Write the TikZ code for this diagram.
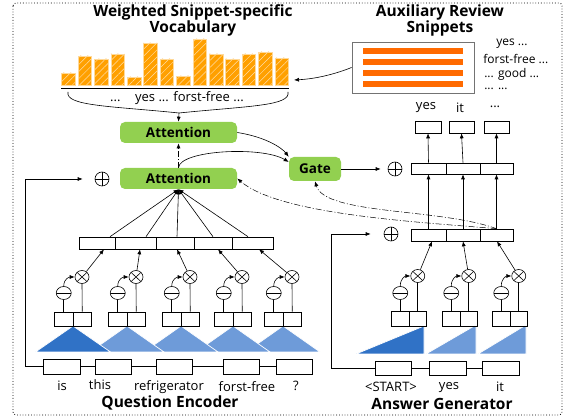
\documentclass[tikz,border=0pt]{standalone}
\usepackage{fontspec}
\setmainfont{Open Sans}
\usetikzlibrary{arrows.meta,patterns.meta,calc,shapes.geometric}
\definecolor{attgreen}{HTML}{92D050}
\definecolor{darkblue}{HTML}{3072C6}
\definecolor{lightblue}{HTML}{6E9BD9}
\definecolor{vocorange}{HTML}{FFA000}
\definecolor{auxorange}{HTML}{FF6A00}
\begin{document}
\begin{tikzpicture}[x=1pt,y=-1pt,
  >={Latex[length=5pt,width=4pt]}, line width=0.6pt,
  cell/.style={draw, inner sep=0pt, minimum height=12pt},
  attbox/.style={fill=attgreen, rounded corners=5pt, minimum width=117pt, minimum height=21pt, font=\bfseries\fontsize{13.5}{15}\selectfont},
  oplusn/.style={circle, draw, minimum size=14pt, inner sep=0pt,
    path picture={\draw (path picture bounding box.north) -- (path picture bounding box.south) (path picture bounding box.west) -- (path picture bounding box.east);}},
  otimesn/.style={ellipse, draw, minimum width=14pt, minimum height=13pt, inner sep=0pt,
    path picture={\draw (path picture bounding box.north west) -- (path picture bounding box.south east) (path picture bounding box.north east) -- (path picture bounding box.south west);}},
  ominusn/.style={ellipse, draw, minimum width=15pt, minimum height=13pt, inner sep=0pt,
    path picture={\draw (path picture bounding box.west) -- (path picture bounding box.east);}},
  titlef/.style={font=\bfseries\fontsize{15.5}{16}\selectfont, align=center, inner sep=0pt},
  lbl/.style={font=\fontsize{13}{14}\selectfont, inner sep=0pt},
  sidelbl/.style={font=\fontsize{12}{13}\selectfont, inner sep=0pt, anchor=west},
  dashdot/.style={dash pattern=on 6pt off 2pt on 1pt off 2pt},
  lighttri/.style={fill=lightblue, draw=white, line width=0.7pt},
  darktri/.style={fill=darkblue, draw=white, line width=0.7pt}
]
\useasboundingbox (0,0) rectangle (571,419);
% outer dotted frame
\draw[dash pattern=on 0.8pt off 2pt, rounded corners=3pt, line width=0.8pt] (13,3) rectangle (562,415);

% titles
\node[titlef] (t1) at (193,20) {Weighted Snippet-specific\\Vocabulary};
\node[titlef] (t2) at (440,20) {Auxiliary Review\\Snippets};

% vocabulary bars
\foreach \h [count=\i from 0] in {73,56,59,54,77,43,59,76,39,54,59,54,52,58} {
  \fill[vocorange] (61.7+16.4*\i,\h) rectangle ++(13.5,85-\h);
  \fill[pattern={Lines[angle=45,distance=5pt,line width=0.5pt]}, pattern color=white!65!vocorange] (61.7+16.4*\i,\h) rectangle ++(13.5,85-\h);
  \draw[white!60!vocorange, line width=0.5pt] (61.7+16.4*\i,\h) rectangle ++(13.5,85-\h);
}
\draw[line width=0.8pt] (61,88) -- (289,88);
\node[lbl] (voctext) at (177,98) {...\hspace{10pt} yes ... forst-free ...};
\coordinate (bracetip) at (179,113);
\draw (68,92) .. controls (65,106) and (110,106) .. (bracetip);
\draw (288,92) .. controls (291,106) and (248,106) .. (bracetip);

% auxiliary snippets
\node[draw=black!55, line width=0.8pt, minimum width=122pt, minimum height=51pt, inner sep=0pt] (aux) at (413,67.5) {};
\foreach \yy in {51,62,73,84} {
  \fill[auxorange] (363,\yy-3.3) rectangle (463,\yy+3.3);
}
\node[sidelbl] (s1) at (496,44) {yes ...};
\node[sidelbl] (s2) at (483,59) {forst-free ...};
\node[sidelbl] (s3) at (484,74) {... good ...};
\node[sidelbl] (s4) at (484,89) {... ...};
\coordinate (vocright) at (294,80);
\draw[->] (aux.west) .. controls (330,76) and (312,79) .. (vocright);

% attention and gate
\node[attbox] (att1) at (178.5,132.5) {Attention};
\node[attbox] (att2) at (178.5,178.5) {Attention};
\node[attbox, minimum width=52pt, minimum height=24pt] (gate) at (315,169) {Gate};
\draw[->] (bracetip) -- (att1.north);
\draw[->, dashdot] (att2.north) -- (att1.south);
\draw[->] (att2.north) .. controls (180,150) and (262,146) .. (gate.165);
\draw[->] (att1.east) .. controls (266,137) and (282,148) .. (gate.155);

\node[oplusn] (opG) at (395,169) {};
\draw[->, shorten >=7pt] (gate.east) -- (opG.west);

% answer side rows
\node[cell, minimum width=35pt, minimum height=11pt] (r1a) at (428.5,168.5) {};
\node[cell, minimum width=34pt, minimum height=11pt] (r1b) at (463,168.5) {};
\node[cell, minimum width=33pt, minimum height=11pt] (r1c) at (496.5,168.5) {};
\node[cell, minimum width=35pt] (r2a) at (428.5,235) {};
\node[cell, minimum width=34pt] (r2b) at (463,235) {};
\node[cell, minimum width=33pt] (r2c) at (496.5,235) {};
\node[cell, minimum width=26pt] (o1) at (428,127) {};
\node[cell, minimum width=25pt] (o2) at (461.5,127) {};
\node[cell, minimum width=25pt] (o3) at (496.5,127) {};
\node[lbl] (ol1) at (426,108) {yes};
\node[lbl] (ol2) at (460,108) {it};
\node[lbl] (ol3) at (495,107) {...};
\draw[->] (r1a.north) -- (o1.south);
\draw[->] (r1b.north) -- (o2.south);
\draw[->] (r1c.north) -- (o3.south);
\draw[->] (r2a.north) -- (r1a.south);
\draw[->] (r2b.north) -- (r1b.south);
\draw[->] (r2c.north) -- (r1c.south);

% dash-dot connectors
\draw[->, dashdot, line width=0.5pt] (r2c.north) .. controls (440,208) and (325,215) .. (gate.south);
\draw[->, dashdot, line width=0.5pt] (r2c.north) .. controls (420,222) and (280,215) .. (att2.east);

% question encoder row
\node[cell, minimum width=36pt] (e1) at (97,243) {};
\node[cell, minimum width=41pt] (e2) at (135.5,243) {};
\node[cell, minimum width=38pt] (e3) at (175,243) {};
\node[cell, minimum width=38pt] (e4) at (213,243) {};
\node[cell, minimum width=41pt] (e5) at (252.5,243) {};
\draw[->] ([xshift=13pt]e1.north) -- (att2.south);
\draw[->] ([xshift=10.5pt]e2.north) -- (att2.south);
\draw[->] ([xshift=2pt]e3.north) -- (att2.south);
\draw[->] (e4.north) -- (att2.south);
\draw[->] ([xshift=-4.5pt]e5.north) -- (att2.south);

% encoder triangles
\foreach \m in {283,233,181,127} {
  \fill[lighttri] (\m,326) -- (\m+37,352) -- (\m-37,352) -- cycle;
}
\fill[darktri] (73,326) -- (110.5,352) -- (35.5,352) -- cycle;

% encoder gated units
\foreach \m [count=\i] in {73,127,181,233,283} {
  \node[cell, minimum width=18.5pt, minimum height=14pt] (qa\i) at (\m-9.25,319) {};
  \node[cell, minimum width=18.5pt, minimum height=14pt] (qb\i) at (\m+9.25,319) {};
  \node[ominusn] (qm\i) at (\m-9.25,293) {};
  \node[otimesn] (qx\i) at (\m+9,277) {};
  \draw (qa\i.north) -- (qm\i.south);
  \draw (qb\i.north) -- (qx\i.south);
  \draw[->] (qm\i.north) .. controls +(0,-8) and +(-5,0) .. (qx\i.west);
}
\draw[->] (qx1) -- ([xshift=7pt]e1.south);
\draw[->] (qx2) -- ([xshift=4.5pt]e2.south);
\draw[->] (qx3) -- ([xshift=2pt]e3.south);
\draw[->] (qx4) -- ([xshift=5pt]e4.south);
\draw[->] (qx5) -- ([xshift=6.5pt]e5.south);

% encoder inputs
\node[cell, minimum width=37pt, minimum height=15pt] (q1) at (61.5,366.5) {};
\node[cell, minimum width=36pt, minimum height=15pt] (q2) at (113,366.5) {};
\node[cell, minimum width=36pt, minimum height=15pt] (q3) at (174,366.5) {};
\node[cell, minimum width=36pt, minimum height=15pt] (q4) at (241,366.5) {};
\node[cell, minimum width=36pt, minimum height=15pt] (q5) at (294,366.5) {};
\draw (q1.east) -- (q2.west) (q2.east) -- (q3.west) (q3.east) -- (q4.west) (q4.east) -- (q5.west);
\node[oplusn] (opL) at (102,179) {};
\draw[->, shorten >=12pt] (q1.west) -- ++(-17,0) |- (opL.west);
\node[lbl] (w1) at (62,386) {is};
\node[lbl] (w2) at (100,385) {this};
\node[lbl] (w3) at (169,387) {refrigerator};
\node[lbl] (w4) at (247,387) {forst-free};
\node[lbl] (w5) at (296,386) {?};
\node[titlef] (qe) at (170,403) {Question Encoder};

% answer triangles
\fill[lighttri] (478,354) -- (526,325) -- (526,354) -- cycle;
\fill[lighttri] (426,354) -- (476,325) -- (476,354) -- cycle;
\fill[darktri] (356,354) -- (424,326) -- (424,354) -- cycle;

% answer gated units
\foreach \m [count=\i] in {409,460,510} {
  \node[cell, minimum width=17.5pt, minimum height=15pt] (aa\i) at (\m-8.75,318.5) {};
  \node[cell, minimum width=17.5pt, minimum height=15pt] (ab\i) at (\m+8.75,318.5) {};
  \node[ominusn] (am\i) at (\m-8.75,293) {};
  \node[otimesn] (ax\i) at (\m+8.75,276) {};
  \draw (aa\i.north) -- (am\i.south);
  \draw (ab\i.north) -- (ax\i.south);
  \draw[->] (am\i.north) .. controls +(0,-8) and +(-5,0) .. (ax\i.west);
}
\draw[->] (ax1) -- ([xshift=3.5pt]r2a.south);
\draw[->] (ax2) -- (r2b.south);
\draw[->] (ax3) -- ([xshift=0.5pt]r2c.south);

% answer inputs
\node[cell, minimum width=36pt, minimum height=14pt] (a1) at (393,368) {};
\node[cell, minimum width=37pt, minimum height=14pt] (a2) at (447.5,368) {};
\node[cell, minimum width=37pt, minimum height=14pt] (a3) at (500.5,368) {};
\draw (a1.east) -- (a2.west) (a2.east) -- (a3.west);
\node[oplusn] (opR) at (391,234) {};
\draw[->, shorten >=13pt] (a1.west) -- ++(-43,0) |- (opR.west);
\node[lbl] (b1) at (391,387) {<START>};
\node[lbl] (b2) at (449,388) {yes};
\node[lbl] (b3) at (500,387) {it};
\node[titlef] (ag) at (442,404) {Answer Generator};
\end{tikzpicture}
\end{document}
